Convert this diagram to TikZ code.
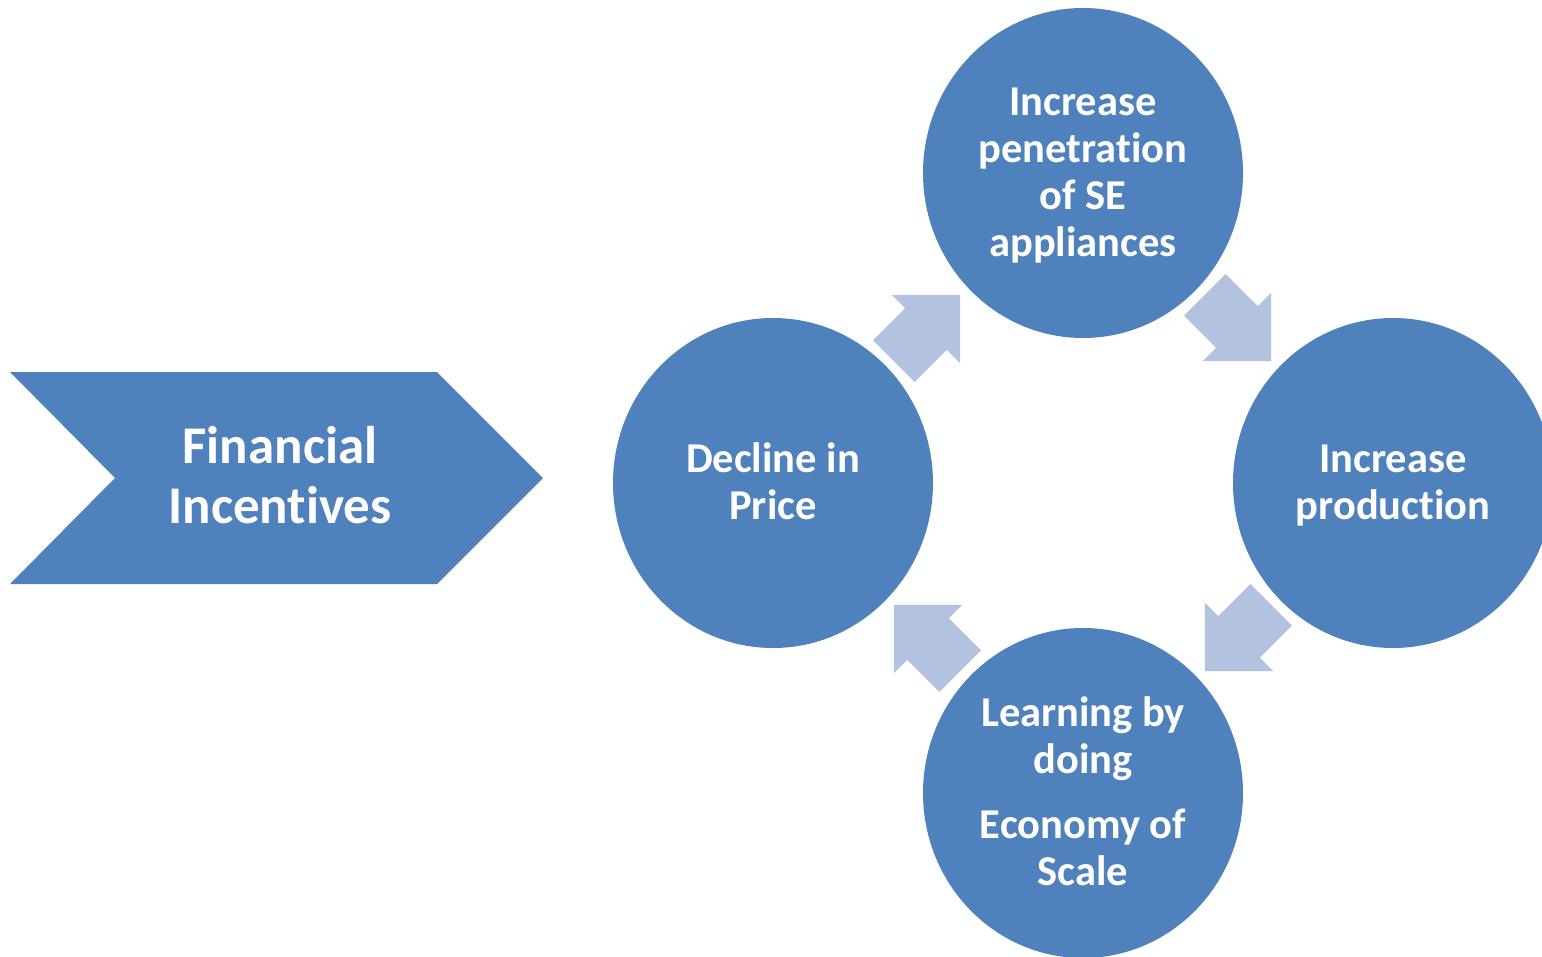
\documentclass[tikz,border=0pt]{standalone}
\usepackage{fontspec}
\setmainfont{Carlito}[Ligatures=NoCommon]
\usetikzlibrary{shapes.geometric}
\definecolor{hexcolor0x4f81bd}{rgb}{0.310,0.506,0.741}
\definecolor{hexcolor0xb3c2de}{rgb}{0.702,0.761,0.871}
\definecolor{mywhite}{rgb}{1.000,1.000,1.000}
\tikzstyle{none}=[inner sep=0pt]
\tikzstyle{stage}=[ellipse,fill=hexcolor0x4f81bd,minimum width=320pt,minimum height=330pt,inner sep=0pt,text=mywhite,font=\bfseries\fontsize{42.5}{47}\selectfont,align=center]
\tikzstyle{banner}=[fill=hexcolor0x4f81bd]
\tikzstyle{bannertext}=[inner sep=0pt,text=mywhite,font=\bfseries\fontsize{53}{60}\selectfont,align=center]
\tikzstyle{cyclearrow}=[fill=hexcolor0xb3c2de]
\tikzset{pics/turn/.style={code={
	\fill [cyclearrow] (-47,-29.4) -- (-1.5,-29.4) -- (-1.5,-48.5) -- (47,0)
		-- (-1.5,48.5) -- (-1.5,29.4) -- (-47,29.4) -- cycle;}}}

\begin{document}
\begin{tikzpicture}[x=1pt,y=1pt]
\useasboundingbox (0,0) rectangle (1542,-956);
	% chevron on the left
	\fill [banner] (10,-372) -- (437,-372) -- (543,-478) -- (437,-584) -- (10,-584) -- (115,-478) -- cycle;
	\node [style=bannertext] (fin) at (280,-475) {Financial\\Incentives};
	% the four stages (ellipses drawn first, text on top)
		\node [style=stage] (0) at (773,-483) {};
		\node [style=stage] (1) at (1083,-173) {};
		\node [style=stage] (2) at (1393,-483) {};
		\node [style=stage] (3) at (1083,-793) {};
		\node [style=stage,fill=none] (0t) at (773,-481) {Decline in\\Price};
		\node [style=stage,fill=none] (1t) at (1083,-175.5) {Increase\\penetration\\of SE\\appliances};
		\node [style=stage,fill=none] (2t) at (1393,-486) {Increase\\production};
		\node [style=stage,fill=none] (3t) at (1083,-791) {Learning by\\doing\\[18pt]Economy of\\Scale};
	% arrows between them
		\pic [rotate=45] at (927,-328) {turn};
		\pic [rotate=-45] at (1238,-328) {turn};
		\pic [rotate=-135] at (1238,-638) {turn};
		\pic [rotate=135] at (927,-638) {turn};
\end{tikzpicture}
\end{document}
